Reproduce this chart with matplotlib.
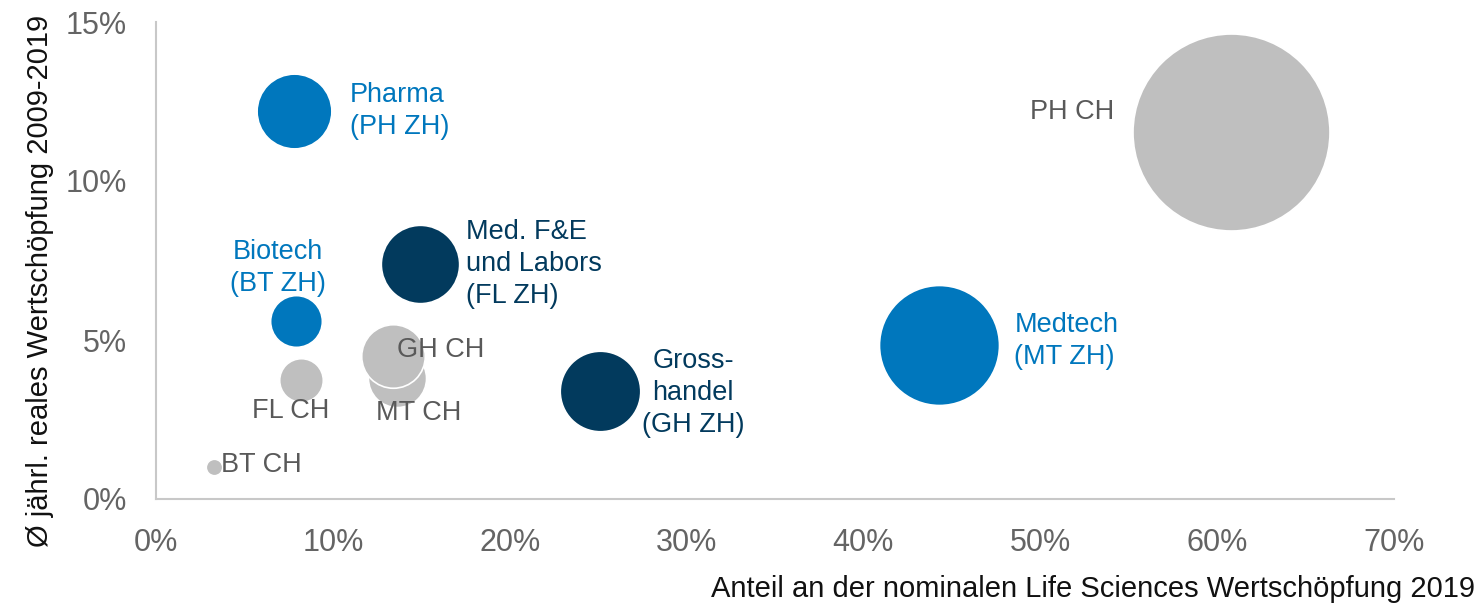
import numpy as np
import matplotlib
matplotlib.use("Agg")
import matplotlib.pyplot as plt
from matplotlib.ticker import FuncFormatter

plt.rcParams['font.family'] = ['Liberation Sans', 'DejaVu Sans']

# Anteil an der nominalen LS-Wertschoepfung (%), reales Wachstum p.a. (%), Blasengroesse (rel.)
names = ["MT CH", "GH CH", "FL CH", "BT CH", "PH CH",
         "Pharma\n(PH ZH)", "Biotech\n(BT ZH)", "Medtech\n(MT ZH)",
         "Med. F&E\nund Labors\n(FL ZH)", "Gross-\nhandel\n(GH ZH)"]
share = [13.6, 13.4, 8.2, 3.3, 60.8, 7.8, 7.9, 44.3, 14.9, 25.1]
growth = [3.8, 4.5, 3.75, 1.0, 11.55, 12.2, 5.6, 4.85, 7.4, 3.4]
size = [8.7, 10.4, 4.9, 0.7, 100.0, 14.4, 6.9, 37.1, 15.8, 16.7]
group = ["ch", "ch", "ch", "ch", "ch", "zh", "zh", "zh", "zh2", "zh2"]

colors = {"ch": "#BFBFBF", "zh": "#0077BD", "zh2": "#023A5D"}
text_colors = {"ch": "#595959", "zh": "#0077BD", "zh2": "#023A5D"}

# label offset (pixels) and alignment per bubble
offsets = [(22, -35, "center"), (4, 6, "left"), (-10, -31, "center"),
           (7, 2, "left"), (-117, 20, "right"), (56, 0, "left"),
           (-18, 53, "center"), (75, 4, "left"), (46, 0, "left"),
           (42, -2, "left")]

fig = plt.figure(figsize=(14.79, 6.07), dpi=100)
ax = fig.add_axes([156 / 1479, 1 - 499 / 607, (1394 - 156) / 1479, (499 - 22) / 607])

scale = (1.44 * 98.5) ** 2 / 100.0
for i in range(len(names)):
    ax.scatter(share[i], growth[i], s=size[i] * scale, color=colors[group[i]],
               edgecolor="white", linewidth=1.2, zorder=2)
    dx, dy, ha = offsets[i]
    ax.annotate(names[i], (share[i], growth[i]), xytext=(dx, dy),
                textcoords="offset pixels", ha=ha, va="center",
                multialignment="center" if "Gross" in names[i] or ha == "center" else "left",
                fontsize=19.5, linespacing=1.3, color=text_colors[group[i]], zorder=3)

ax.set_xlim(0, 70)
ax.set_ylim(0, 15)
ax.set_xticks(np.arange(0, 71, 10))
ax.set_yticks(np.arange(0, 16, 5))
ax.xaxis.set_major_formatter(FuncFormatter(lambda v, p: f"{v:.0f}%"))
ax.yaxis.set_major_formatter(FuncFormatter(lambda v, p: f"{v:.0f}%"))
ax.tick_params(length=0, labelsize=22, labelcolor="#646464")
ax.tick_params(axis="x", pad=21)
ax.tick_params(axis="y", pad=21)

for s in ["top", "right"]:
    ax.spines[s].set_visible(False)
for s in ["left", "bottom"]:
    ax.spines[s].set_color("#C8C8C8")
    ax.spines[s].set_linewidth(1.5)

fig.text(1475 / 1479, 1 - 589 / 607, "Anteil an der nominalen Life Sciences Wertschöpfung 2019",
         ha="right", va="center", fontsize=21, color="#111111")
fig.text(40 / 1479, 1 - 15 / 607, "Ø jährl. reales Wertschöpfung 2009-2019",
         ha="center", va="top", rotation=90, fontsize=21, color="#111111")

fig.savefig("out.png", dpi=100)
